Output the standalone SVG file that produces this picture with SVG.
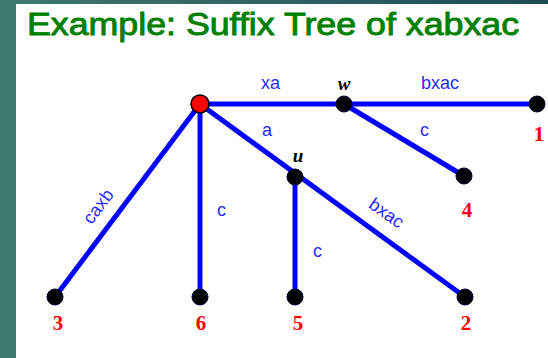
<svg xmlns="http://www.w3.org/2000/svg" width="548" height="358" viewBox="0 0 548 358">
<defs>
<linearGradient id="topbar" x1="0" y1="0" x2="1" y2="0">
<stop offset="0" stop-color="#3d7a6e"/>
<stop offset="1" stop-color="#1f4b55"/>
</linearGradient>
<style>
.edge{stroke:#0000ff;stroke-width:5;fill:none;stroke-linecap:round}
.leaf{fill:#000;stroke:#000033;stroke-width:1}
.lbl{font-family:"Liberation Sans","DejaVu Sans",sans-serif;font-size:18px;fill:#2a2aff}
.num{font-family:"Liberation Serif","DejaVu Serif",serif;font-size:21px;font-weight:bold;fill:#ff0000;text-anchor:middle}
.var{font-family:"Liberation Serif","DejaVu Serif",serif;font-size:19px;font-weight:bold;font-style:italic;fill:#000;text-anchor:middle}
.title{font-family:"Liberation Sans","DejaVu Sans",sans-serif;font-size:31px;fill:#008000;stroke:#008000;stroke-width:0.9}
</style>
</defs>
<rect x="0" y="0" width="548" height="358" fill="#ffffff"/>
<rect x="0" y="0" width="548" height="4" fill="url(#topbar)"/>
<rect x="0" y="0" width="16" height="358" fill="#3d7a6e"/>
<text class="title" x="27" y="35" textLength="492" lengthAdjust="spacingAndGlyphs">Example: Suffix Tree of xabxac</text>
<g id="connectors">
<line class="edge" x1="200" y1="104" x2="537" y2="104"/>
<line class="edge" x1="344" y1="104" x2="464" y2="176"/>
<line class="edge" x1="200" y1="104" x2="465" y2="297"/>
<line class="edge" x1="295" y1="177" x2="295" y2="297"/>
<line class="edge" x1="200" y1="104" x2="200" y2="297"/>
<line class="edge" x1="200" y1="104" x2="55" y2="297"/>
<text class="lbl" x="261" y="89">xa</text>
<text class="lbl" x="421" y="89">bxac</text>
<text class="lbl" x="420" y="136">c</text>
<text class="lbl" x="262" y="136">a</text>
<text class="lbl" x="217" y="216">c</text>
<text class="lbl" x="313" y="257">c</text>
<text class="lbl" transform="translate(383,218) rotate(35.2)" text-anchor="middle">bxac</text>
<text class="lbl" transform="translate(103,210) rotate(-53)" text-anchor="middle">caxb</text>
</g>
<g id="root"><circle cx="200" cy="104" r="9" fill="#ff0000" stroke="#000" stroke-width="1.5"/></g>
<g id="w"><circle class="leaf" cx="344" cy="104" r="8"/><text class="var" x="344" y="90">w</text></g>
<g id="u"><circle class="leaf" cx="295" cy="177" r="8"/><text class="var" x="298" y="162">u</text></g>
<g id="leaf1"><circle class="leaf" cx="537" cy="104" r="8"/><text class="num" x="539" y="141">1</text></g>
<g id="leaf4"><circle class="leaf" cx="464" cy="176" r="8"/><text class="num" x="467" y="217">4</text></g>
<g id="leaf2"><circle class="leaf" cx="465" cy="297" r="8"/><text class="num" x="466" y="330">2</text></g>
<g id="leaf5"><circle class="leaf" cx="295" cy="297" r="8"/><text class="num" x="298" y="330">5</text></g>
<g id="leaf6"><circle class="leaf" cx="200" cy="297" r="8"/><text class="num" x="201" y="330">6</text></g>
<g id="leaf3"><circle class="leaf" cx="55" cy="297" r="8"/><text class="num" x="58" y="330">3</text></g>
</svg>
